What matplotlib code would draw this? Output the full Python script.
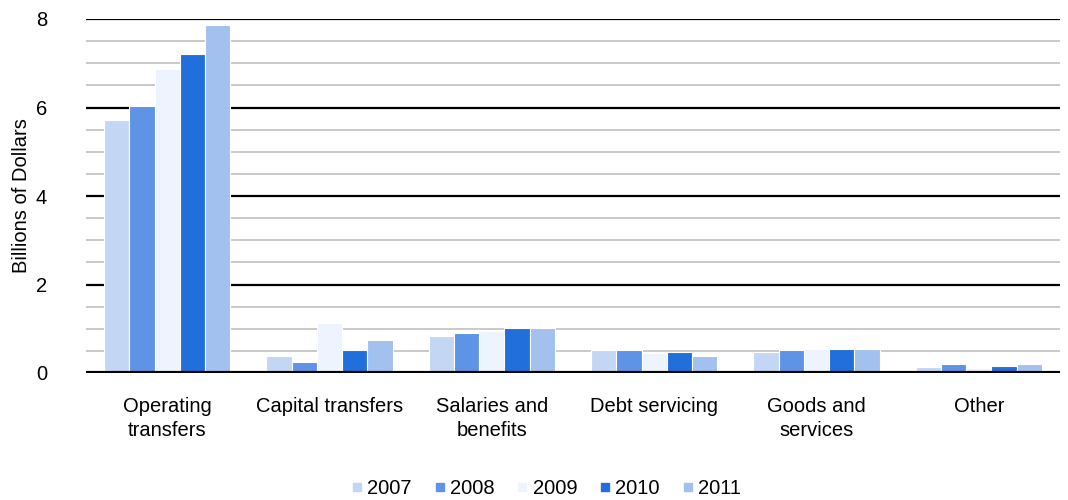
import matplotlib
matplotlib.use("Agg")
import matplotlib.pyplot as plt
import numpy as np
from matplotlib.lines import Line2D

plt.rcParams['font.family'] = ['Liberation Sans', 'DejaVu Sans']

categories = ["Operating\ntransfers", "Capital transfers", "Salaries and\nbenefits",
              "Debt servicing", "Goods and\nservices", "Other"]
years = ["2007", "2008", "2009", "2010", "2011"]
values = {
    "2007": [5.72, 0.38, 0.83, 0.51, 0.47, 0.14],
    "2008": [6.03, 0.24, 0.91, 0.51, 0.51, 0.20],
    "2009": [6.88, 1.14, 0.96, 0.46, 0.55, 0.12],
    "2010": [7.20, 0.51, 1.01, 0.47, 0.55, 0.15],
    "2011": [7.87, 0.74, 1.01, 0.38, 0.55, 0.20],
}
colors = ["#C3D7F5", "#5E93E6", "#EEF4FD", "#216FDB", "#A2C1EF"]

FS = 14.5
fig = plt.figure(figsize=(10.68, 5.0), dpi=100)
ax = fig.add_axes([86/1068, 1-373/500, (1060-86)/1068, (373-19)/500])

x = np.arange(len(categories))
n = len(years)
group_w = 0.78
bw = group_w / n
for i, (yr, c) in enumerate(zip(years, colors)):
    ax.bar(x - group_w/2 + bw*(i+0.5), values[yr], width=bw, color=c,
           edgecolor="white", linewidth=0.8, zorder=3, label=yr)

ax.set_ylim(0, 8)
ax.set_xlim(-0.5, len(categories)-0.5)
for v in np.arange(0.5, 8.01, 0.5):
    if abs(v % 2) < 1e-9:
        ax.axhline(v, color="black", lw=1.6, zorder=1)
    else:
        ax.axhline(v, color="#C0C0C0", lw=1.2, zorder=1)
ax.axhline(0, color="black", lw=3, zorder=4)

ax.set_yticks([0, 2, 4, 6, 8])
ax.set_yticklabels(["0", "2", "4", "6", "8"], fontsize=FS)
ax.tick_params(axis="y", length=0, pad=28)
ax.set_xticks(x)
ax.set_xticklabels(categories, fontsize=FS, linespacing=1.35)
ax.tick_params(axis="x", length=0, pad=17)
for s in ax.spines.values():
    s.set_visible(False)
ax.set_ylabel("Billions of Dollars", fontsize=FS)
ax.yaxis.set_label_coords((31 - 86) / (1060 - 86), 0.5)

handles = [Line2D([], [], marker="s", linestyle="none", markersize=6,
                  markerfacecolor=c, markeredgecolor=c) for c in colors]
fig.legend(handles, years, loc="center", bbox_to_anchor=(545/1068, 1-489/500),
           ncol=5, frameon=False, fontsize=FS, handletextpad=0.1,
           columnspacing=1.0, handlelength=0.8)

fig.savefig("out.png", dpi=100)
